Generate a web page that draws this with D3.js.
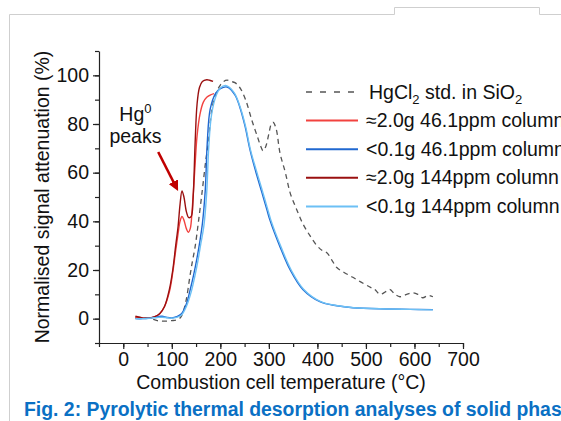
<!DOCTYPE html>
<html>
<head>
<meta charset="utf-8">
<script src="https://cdn.jsdelivr.net/npm/d3@7"></script>
<style>
  body { margin: 0; background: #fff; }
  svg { display: block; font-family: "Liberation Sans", Arial, sans-serif; }
</style>
</head>
<body>
<div id="chart"></div>
<script>
// chart size
var svgWidth = 561;
var svgHeight = 421;
var fontSize = 19.5;

var margin = { top: 51, right: 98, bottom: 78, left: 99 };
var width = svgWidth - margin.left - margin.right;
var height = svgHeight - margin.top - margin.bottom;

// HgCl2 standard (dashed)
var stdT = [25, 40, 55, 70, 85, 100, 110, 118, 123, 130, 137, 142, 148, 155, 163, 170, 175, 180, 185, 192, 200, 207, 214, 222, 230, 240, 252, 265, 276, 283, 288, 294, 300, 305, 309, 315, 323, 334, 344, 357, 370, 385, 399, 410, 420, 430, 440, 455, 473, 490, 508, 518, 529, 540, 549, 560, 570, 584, 597, 607, 617, 628, 638];
var stdV = [0.5, 0.5, 0.2, -0.8, -1, -0.8, -0.5, 0.5, 2.5, 8, 17, 23, 29.5, 40, 53, 65, 72, 82, 88.5, 93, 96, 97.5, 98, 97.5, 97, 95, 90, 81.5, 75, 71, 69, 71, 76, 80, 80.7, 78, 68, 60, 51.6, 45, 39, 34, 30, 28, 27, 24, 21, 19, 17, 15, 13, 12, 10, 11, 12, 10, 9, 10, 10.6, 10, 8.6, 9.5, 9];

// ≈2.0g 46.1ppm column
var red46T = [25, 40, 55, 65, 75, 85, 95, 102, 108, 113, 117, 121, 125, 130, 134, 138, 142, 147, 152, 158, 165, 172, 180, 187];
var red46V = [0.5, 0.2, 0.3, 0.8, 2, 5, 11, 19, 28, 35, 40, 42, 40.5, 37, 35.5, 37, 45, 60, 75, 84, 89, 91, 92, 92.5];

// <0.1g 46.1ppm column
var blue46T = [25, 40, 55, 70, 80, 90, 100, 110, 120, 130, 138, 145, 152, 158, 163, 169, 173, 179, 190, 200, 214, 230, 240, 251, 261, 275, 286, 296, 302, 323, 344, 370, 405, 440, 473, 543, 590, 638];
var blue46V = [0, 0, 0.3, 0.8, 1, 0.5, 0.3, 0.8, 2, 6, 12, 18, 25, 32, 39, 53, 72, 86, 92.5, 94.5, 95.2, 92, 87, 79, 69.5, 59, 51.6, 44.7, 40.6, 29.5, 20, 12, 7, 5.3, 4.5, 4, 3.8, 3.7];

// ≈2.0g 144ppm column
var red144T = [25, 40, 55, 65, 75, 85, 95, 102, 108, 113, 117, 121, 125, 130, 135, 140, 144, 148, 152, 157, 163, 172, 178, 185];
var red144V = [1, 0.3, 0.3, 0.8, 2, 5, 12, 20, 30, 38, 47, 52.5, 50, 44, 41.5, 42, 50, 72, 88, 95, 97.5, 98.2, 98, 97.5];

// <0.1g 144ppm column
var blue144T = [25, 40, 55, 70, 80, 90, 100, 110, 120, 130, 140, 147, 154, 160, 166, 172, 176, 182, 192, 200, 211, 228, 240, 252, 262, 277, 288, 298, 304, 325, 346, 372, 407, 442, 475, 545, 592, 638];
var blue144V = [0, 0, 0.2, 0.5, 0.6, 0.4, 0.2, 0.5, 1.5, 5, 11, 17, 24, 31, 38, 52, 70, 84, 92, 94.8, 95.8, 93, 87.5, 79, 69.5, 59, 51.6, 44.7, 40.6, 29.5, 20, 12, 7, 5.3, 4.5, 4, 3.8, 3.6];

var seriesNames = ["HgCl\u2082 std. in SiO\u2082", "\u22482.0g 46.1ppm column", "<0.1g 46.1ppm column", "\u22482.0g 144ppm column", "<0.1g 144ppm column"];
var seriesColors = ["#555555", "#f2423f", "#2068d0", "#9a1010", "#6cc0f5"];

var xTicks = [0, 100, 200, 300, 400, 500, 600, 700];
var yTicks = [0, 20, 40, 60, 80, 100];

var series = [
  { T: stdT, V: stdV, dashed: true },
  { T: red46T, V: red46V },
  { T: blue46T, V: blue46V },
  { T: red144T, V: red144V },
  { T: blue144T, V: blue144V }
];
series.forEach(function(s, i) {
  s.name = seriesNames[i];
  s.color = seriesColors[i];
  s.points = s.T.map(function(t, j) { return { t: t, v: s.V[j] }; });
});

var svg = d3.select("#chart")
  .append("svg")
  .attr("width", svgWidth)
  .attr("height", svgHeight);

// slide frame
svg.append("path")
  .attr("d", "M9.5,421 V14.5 H394.5 V7.5 H539.5 V14.5 H561")
  .attr("fill", "none")
  .attr("stroke", "#cfcfcf")
  .attr("stroke-width", 1);

var chartGroup = svg.append("g")
  .attr("transform", `translate(${margin.left}, ${margin.top})`);

var xScale = d3.scaleLinear().domain([-50, 700]).range([0, width]);
var yScale = d3.scaleLinear().domain([-10, 110]).range([height, 0]);

// minor ticks
chartGroup.append("g")
  .attr("transform", `translate(0, ${height})`)
  .call(d3.axisBottom(xScale).tickValues(d3.range(-50, 701, 50)).tickSize(4).tickFormat(""))
  .call(g => g.select(".domain").remove());
chartGroup.append("g")
  .call(d3.axisLeft(yScale).tickValues(d3.range(-10, 111, 10)).tickSize(4).tickFormat(""))
  .call(g => g.select(".domain").remove());

// major axes
var xAxis = chartGroup.append("g")
  .attr("transform", `translate(0, ${height})`)
  .call(d3.axisBottom(xScale).tickValues(xTicks).tickSize(6).tickSizeOuter(0).tickPadding(3));
var yAxis = chartGroup.append("g")
  .call(d3.axisLeft(yScale).tickValues(yTicks).tickSize(6).tickSizeOuter(0).tickPadding(4));

[xAxis, yAxis].forEach(function(a) {
  a.selectAll("text").attr("font-size", fontSize).attr("fill", "#111").attr("font-family", "Liberation Sans, Arial, sans-serif");
  a.selectAll("line, path").attr("stroke", "#222").attr("stroke-width", 1.2);
});
chartGroup.selectAll(".tick line").attr("stroke", "#222").attr("stroke-width", 1.2);

// curves
var line = d3.line()
  .x(d => xScale(d.t))
  .y(d => yScale(d.v))
  .curve(d3.curveCatmullRom.alpha(0.5));

series.forEach(function(s) {
  chartGroup.append("path")
    .datum(s.points)
    .attr("fill", "none")
    .attr("stroke", s.color)
    .attr("stroke-width", s.dashed ? 1.3 : 1.4)
    .attr("stroke-dasharray", s.dashed ? "5,4" : null)
    .attr("d", line);
});

// axis titles
chartGroup.append("text")
  .attr("x", width / 2)
  .attr("y", height + 46)
  .attr("text-anchor", "middle")
  .attr("font-size", fontSize)
  .attr("fill", "#111")
  .text("Combustion cell temperature (\u00b0C)");

chartGroup.append("text")
  .attr("transform", "rotate(-90)")
  .attr("x", -height / 2)
  .attr("y", -50)
  .attr("text-anchor", "middle")
  .attr("font-size", fontSize)
  .attr("fill", "#111")
  .text("Normalised signal attenuation (%)");

// Hg0 annotation
var note = chartGroup.append("text")
  .attr("x", xScale(25))
  .attr("y", yScale(81.3))
  .attr("text-anchor", "middle")
  .attr("font-size", fontSize)
  .attr("fill", "#111");
note.append("tspan").text("Hg");
note.append("tspan").attr("dy", -8).attr("font-size", 13).text("0");
chartGroup.append("text")
  .attr("x", xScale(25))
  .attr("y", yScale(72.2))
  .attr("text-anchor", "middle")
  .attr("font-size", fontSize)
  .attr("fill", "#111")
  .text("peaks");

svg.append("defs").append("marker")
  .attr("id", "arrow")
  .attr("viewBox", "0 0 10 10")
  .attr("refX", 6)
  .attr("refY", 5)
  .attr("markerWidth", 4)
  .attr("markerHeight", 4)
  .attr("orient", "auto")
  .append("path")
  .attr("d", "M0,0 L10,5 L0,10 Z")
  .attr("fill", "#c00000");

chartGroup.append("line")
  .attr("x1", xScale(72))
  .attr("y1", yScale(68.5))
  .attr("x2", xScale(109))
  .attr("y2", yScale(54))
  .attr("stroke", "#c00000")
  .attr("stroke-width", 2.6)
  .attr("marker-end", "url(#arrow)");

// legend
var legend = svg.append("g").attr("transform", "translate(306, 92)");
series.forEach(function(s, i) {
  var row = legend.append("g").attr("transform", `translate(0, ${i * 28.6})`);
  row.append("line")
    .attr("x1", 0).attr("x2", 52)
    .attr("y1", 0).attr("y2", 0)
    .attr("stroke", s.color)
    .attr("stroke-width", s.dashed ? 1.3 : 2)
    .attr("stroke-dasharray", s.dashed ? "6,8" : null);
  var t = row.append("text")
    .attr("x", i === 0 ? 63 : 60)
    .attr("y", 6.5)
    .attr("font-size", fontSize)
    .attr("fill", "#111");
  if (i === 0) {
    t.append("tspan").text("HgCl");
    t.append("tspan").attr("dy", 5).attr("font-size", 13).text("2");
    t.append("tspan").attr("dy", -5).text(" std. in SiO");
    t.append("tspan").attr("dy", 5).attr("font-size", 13).text("2");
  } else {
    t.text(s.name);
  }
});

// caption
svg.append("text")
  .attr("x", 24)
  .attr("y", 416)
  .attr("font-size", 19.4)
  .attr("font-weight", "bold")
  .attr("fill", "#0a70c4")
  .text("Fig. 2: Pyrolytic thermal desorption analyses of solid phase");
</script>
</body>
</html>
